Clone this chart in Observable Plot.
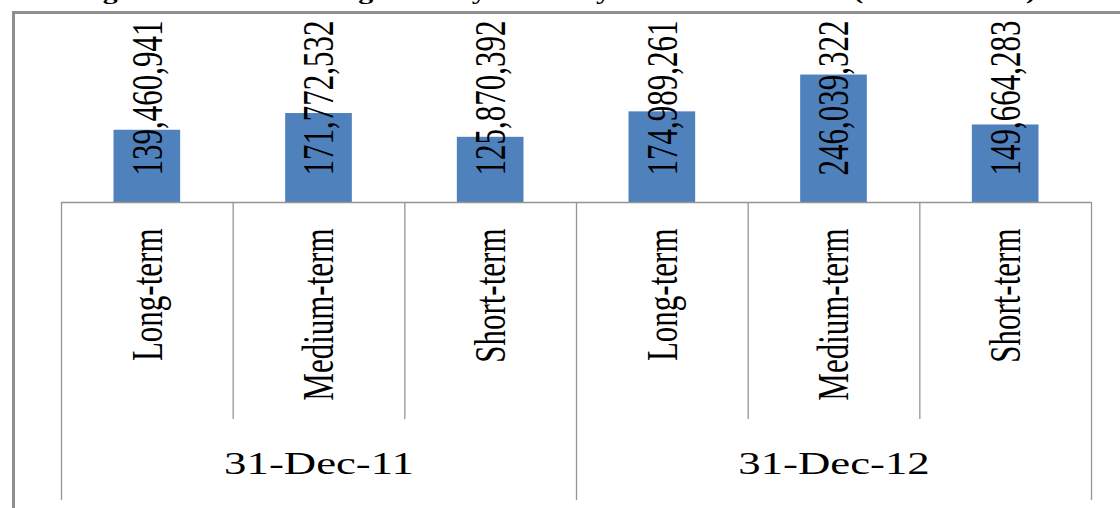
<!DOCTYPE html>
<html>
<head>
<meta charset="utf-8">
<script src="https://cdn.jsdelivr.net/npm/d3@7"></script>
<script src="https://cdn.jsdelivr.net/npm/@observablehq/plot@0.6"></script>
<style>
  html, body { margin: 0; padding: 0; background: #ffffff; overflow: hidden; }
  #wrap { position: relative; width: 1120px; height: 508px; overflow: hidden; }
  #title {
    position: absolute; left: 76px; top: -18px; white-space: nowrap;
    font-family: "Liberation Serif", "Times New Roman", serif; font-weight: bold;
    font-size: 21px; line-height: 21px; color: #000;
    transform: scaleX(1.43); transform-origin: 0 0;
  }
  #border {
    position: absolute; left: 12px; top: 11px; width: 1300px; height: 700px;
    border: 3px solid #8f8f8f; box-sizing: border-box; pointer-events: none;
  }
  #chart { position: absolute; left: 0; top: 0; }
  #chart svg text { font-family: "Liberation Serif", "Times New Roman", serif; }
</style>
</head>
<body>
<div id="wrap">
  <div id="title">Figure 3.4 Outstanding loans by Maturity for 2011 and 2012 (in thousands)</div>
  <div id="border"></div>
  <div id="chart"></div>
</div>
<script>
// ---- data ----
const dates = ["31-Dec-11", "31-Dec-12"];
const maturities = ["Long-term", "Medium-term", "Short-term"];
const loans2011 = [139460941, 171772532, 125870392];
const loans2012 = [174989261, 246039322, 149664283];

const seriesByDate = [loans2011, loans2012];
const rows = dates.flatMap((date, di) =>
  maturities.map((maturity, mi) => ({
    date, maturity, value: seriesByDate[di][mi], i: di * maturities.length + mi
  }))
);
const groups = dates.map((date, di) => ({
  date, mid: di * maturities.length + maturities.length / 2
}));
const edges = d3.range(rows.length + 1);
const groupEdges = edges.filter(e => e % maturities.length === 0);
const innerEdges = edges.filter(e => e % maturities.length !== 0);

const fmt = d3.format(",");
const serif = "Liberation Serif";
const lineColor = "#959595";

const chart = Plot.plot({
  width: 1120,
  height: 508,
  marginLeft: 61,
  marginRight: 29,
  marginTop: 202,
  marginBottom: 8,
  x: { domain: [0, rows.length], axis: null },
  y: { domain: [0, 300e6], range: [202, 46.6], axis: null },
  style: { fontFamily: serif, fontSize: "31px", color: "#000", background: "transparent" },
  marks: [
    Plot.ruleX(groupEdges, { x: d => d, stroke: lineColor, strokeWidth: 1.3 }),
    Plot.ruleX(innerEdges, { x: d => d, stroke: lineColor, strokeWidth: 1.3, insetBottom: 81 }),
    Plot.rectY(rows, {
      x1: "i", x2: d => d.i + 1, y1: 0, y2: "value",
      fill: "#4f81bd", insetLeft: 52.5, insetRight: 52.5
    }),
    Plot.ruleY([0], { stroke: lineColor, strokeWidth: 1.3 }),
    // value labels (1st text mark)
    Plot.text(rows, {
      x: d => d.i + 0.5, y: 0, dy: -27, text: d => fmt(d.value),
      rotate: -90, textAnchor: "start", lineAnchor: "middle",
      fontSize: 31, fontFamily: serif, fill: "#000"
    }),
    // category labels (2nd text mark)
    Plot.text(rows, {
      x: d => d.i + 0.5, frameAnchor: "top", dy: 26, text: "maturity",
      rotate: -90, textAnchor: "end", lineAnchor: "middle",
      fontSize: 31, fontFamily: serif, fill: "#000"
    }),
    // group labels (3rd text mark)
    Plot.text(groups, {
      x: "mid", frameAnchor: "bottom", dy: -27, text: "date",
      fontSize: 32, fontFamily: serif, fill: "#000"
    })
  ]
});

document.getElementById("chart").appendChild(chart);

// The reference's type is stretched horizontally; widen each glyph about its anchor.
function stretchText(t, k) {
  let tr = t.getAttribute("transform") || "";
  if (/translate\(/.test(tr)) {
    tr = tr.replace(/translate\([^)]*\)/, m => `${m} scale(${k},1)`);
  } else {
    const x = +(t.getAttribute("x") || 0), y = +(t.getAttribute("y") || 0);
    t.removeAttribute("x"); t.removeAttribute("y");
    tr = `translate(${x},${y}) scale(${k},1) ${tr}`;
  }
  t.setAttribute("transform", tr.trim());
}
const textGroups = chart.querySelectorAll('g[aria-label="text"]');
const factors = [1.45, 1.45, 1.4];
textGroups.forEach((g, gi) => {
  g.querySelectorAll("text").forEach(t => stretchText(t, factors[gi] ?? 1.45));
});
</script>
</body>
</html>
